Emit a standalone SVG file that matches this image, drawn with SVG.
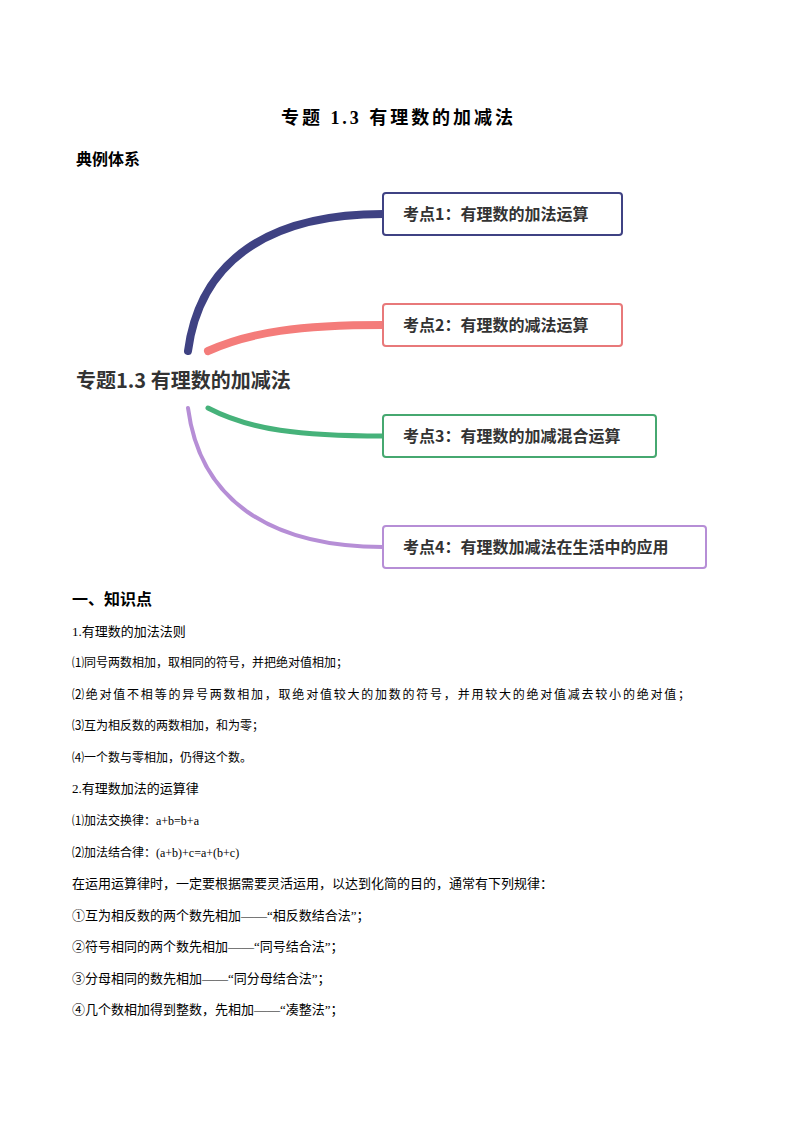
<svg xmlns="http://www.w3.org/2000/svg" width="794" height="1123" viewBox="0 0 794 1123">
<style>
.h{font-family:"Liberation Serif","Noto Sans CJK SC",serif;font-weight:bold;fill:#000}
.t{font-family:"Liberation Serif","Noto Sans CJK SC",serif;fill:#000;font-size:12px}
.n{font-family:"Noto Sans CJK SC",sans-serif;font-weight:bold;font-size:16px;fill:#333}
.box{fill:#fff;stroke-width:2}
.c{fill:none;stroke-linecap:round}
</style>
<rect width="794" height="1123" fill="#fff"/>
<text class="h" x="281" y="124" font-size="18" textLength="232">专题 1.3  有理数的加减法</text>
<text class="h" x="76" y="165" font-size="16">典例体系</text>
<g id="connectors">
<path class="c" d="M188,351 C200,260 270,214 383,214" stroke="#3f4283" stroke-width="8"/>
<path class="c" d="M208,351 C250,332 300,325 383,325" stroke="#f47c7a" stroke-width="8"/>
<path class="c" d="M208,408 C250,430 300,436 383,436" stroke="#46b27a" stroke-width="5"/>
<path class="c" d="M188,408 C200,500 270,547 383,547" stroke="#b68ed6" stroke-width="4"/>
</g>
<g id="root"><text class="n" x="76" y="388" style="font-size:20px">专题1.3 有理数的加减法</text></g>
<g id="n1"><rect class="box" x="383" y="193" width="239" height="42" rx="3" stroke="#3f4283"/><text class="n" x="403" y="220">考点1：有理数的加法运算</text></g>
<g id="n2"><rect class="box" x="383" y="304" width="239" height="42" rx="3" stroke="#e8797a"/><text class="n" x="403" y="331">考点2：有理数的减法运算</text></g>
<g id="n3"><rect class="box" x="383" y="415" width="273" height="42" rx="3" stroke="#46a870"/><text class="n" x="403" y="442">考点3：有理数的加减混合运算</text></g>
<g id="n4"><rect class="box" x="383" y="526" width="323" height="42" rx="3" stroke="#b68ed6"/><text class="n" x="403" y="553">考点4：有理数加减法在生活中的应用</text></g>
<text class="h" x="72" y="605" font-size="16">一、知识点</text>
<text class="t" x="72" y="636" style="font-size:13px">1.有理数的加法法则</text>
<text class="t" x="72" y="667">⑴同号两数相加，取相同的符号，并把绝对值相加；</text>
<text class="t" x="72" y="699" textLength="618">⑵绝对值不相等的异号两数相加，取绝对值较大的加数的符号，并用较大的绝对值减去较小的绝对值；</text>
<text class="t" x="72" y="730">⑶互为相反数的两数相加，和为零；</text>
<text class="t" x="72" y="762">⑷一个数与零相加，仍得这个数。</text>
<text class="t" x="72" y="793" style="font-size:13px">2.有理数加法的运算律</text>
<text class="t" x="72" y="825">⑴加法交换律：a+b=b+a</text>
<text class="t" x="72" y="857">⑵加法结合律：(a+b)+c=a+(b+c)</text>
<text class="t" x="72" y="888" style="font-size:13px">在运用运算律时，一定要根据需要灵活运用，以达到化简的目的，通常有下列规律：</text>
<text class="t" x="72" y="920" style="font-size:13px">①互为相反数的两个数先相加——“相反数结合法”；</text>
<text class="t" x="72" y="951" style="font-size:13px">②符号相同的两个数先相加——“同号结合法”；</text>
<text class="t" x="72" y="983" style="font-size:13px">③分母相同的数先相加——“同分母结合法”；</text>
<text class="t" x="72" y="1014" style="font-size:13px">④几个数相加得到整数，先相加——“凑整法”；</text>
</svg>
